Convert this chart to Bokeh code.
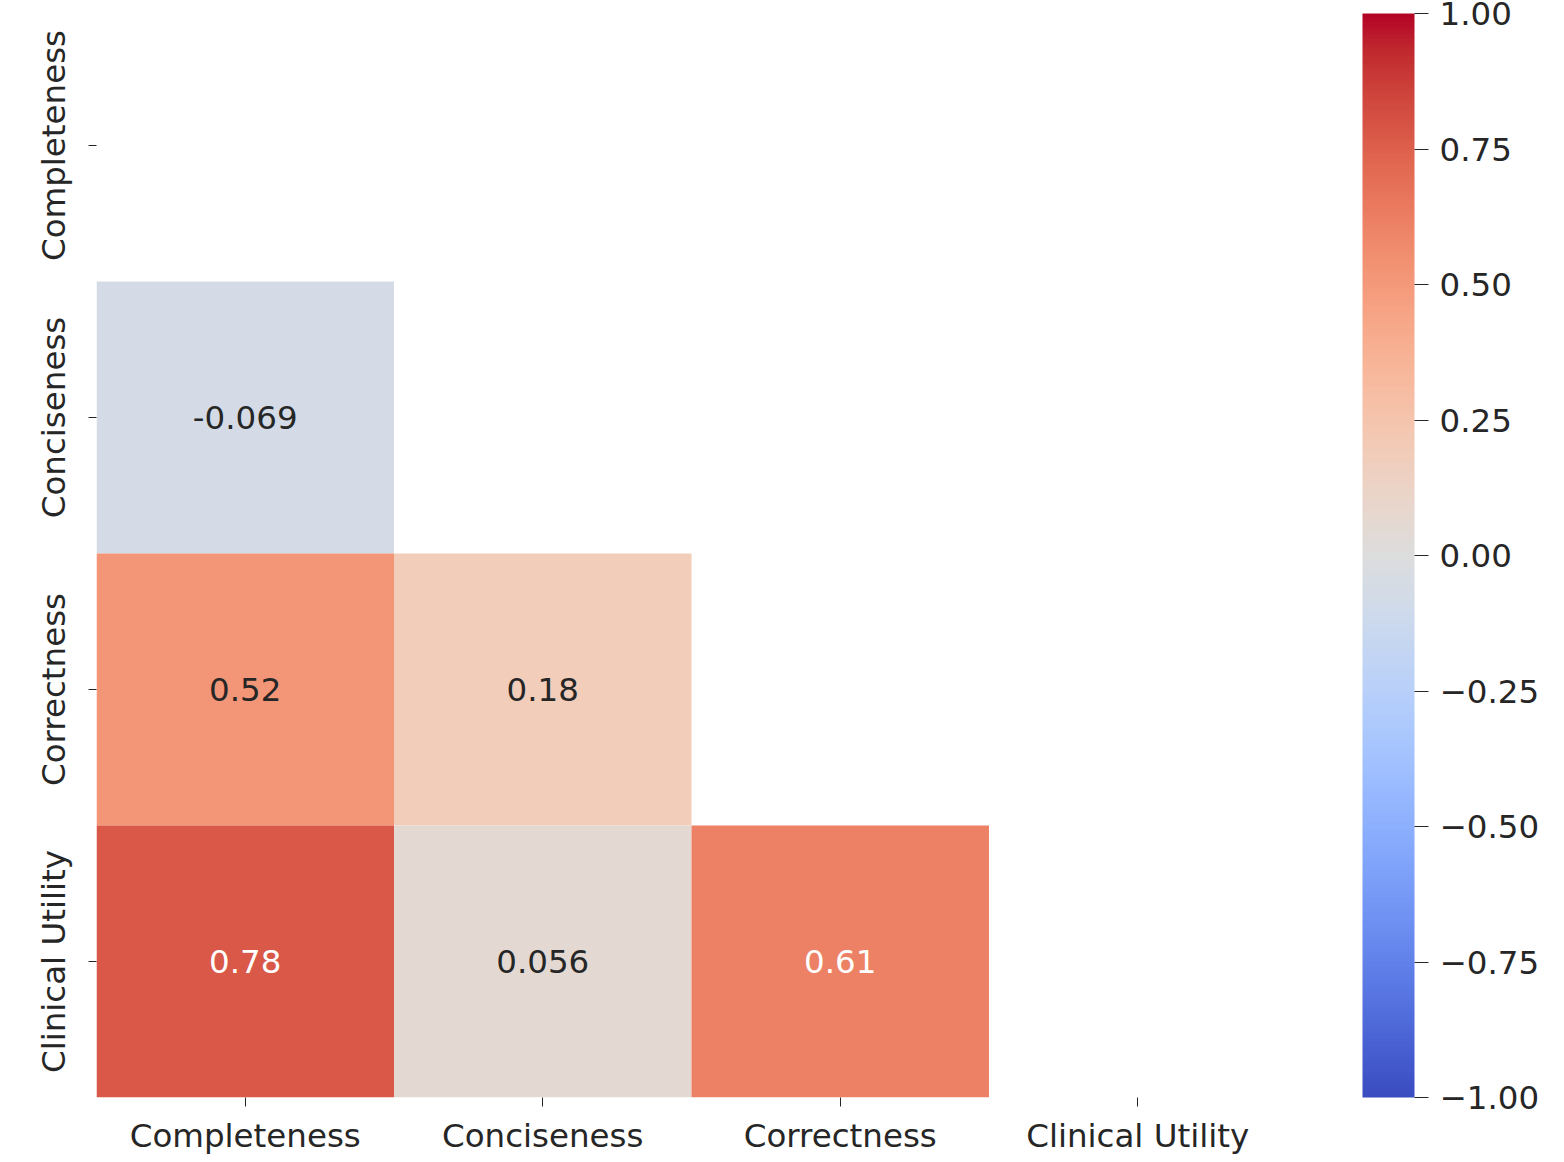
import numpy as np
from bokeh.plotting import figure
from bokeh.models import (ColumnDataSource, LinearColorMapper, ColorBar, FixedTicker,
                          CustomJSTickFormatter, FactorRange)
from bokeh.transform import transform
from bokeh.core.properties import value
from bokeh.embed import file_html
from bokeh.resources import INLINE

# ---- data ----
labels = ["Completeness", "Conciseness", "Correctness", "Clinical Utility"]
row_labels = ["Conciseness", "Correctness", "Correctness",
              "Clinical Utility", "Clinical Utility", "Clinical Utility"]
col_labels = ["Completeness", "Completeness", "Conciseness",
              "Completeness", "Conciseness", "Correctness"]
corr_values = [-0.069, 0.52, 0.18, 0.78, 0.056, 0.61]
corr_text = ["-0.069", "0.52", "0.18", "0.78", "0.056", "0.61"]
cbar_ticks = [-1.0, -0.75, -0.5, -0.25, 0.0, 0.25, 0.5, 0.75, 1.0]

# ---- coolwarm colormap (Moreland table) ----
cw = [
    (0.0, 0.2298057, 0.298717966, 0.753683153),
    (0.03125, 0.26623388, 0.353094838, 0.801466763),
    (0.0625, 0.30386891, 0.406535296, 0.84495867),
    (0.09375, 0.342804478, 0.458757618, 0.883725899),
    (0.125, 0.38301334, 0.50941904, 0.917387822),
    (0.15625, 0.424369608, 0.558148092, 0.945619588),
    (0.1875, 0.46666708, 0.604562568, 0.968154911),
    (0.21875, 0.509635204, 0.648280772, 0.98478814),
    (0.25, 0.552953156, 0.688929332, 0.995375608),
    (0.28125, 0.596262162, 0.726149107, 0.999836203),
    (0.3125, 0.639176211, 0.759599947, 0.998151185),
    (0.34375, 0.681291281, 0.788964712, 0.990363227),
    (0.375, 0.722193294, 0.813952739, 0.976574709),
    (0.40625, 0.761464949, 0.834302879, 0.956945269),
    (0.4375, 0.798691636, 0.849786142, 0.931688648),
    (0.46875, 0.833466556, 0.860207984, 0.901068838),
    (0.5, 0.865395197, 0.86541021, 0.865395561),
    (0.53125, 0.897787179, 0.848937047, 0.820880546),
    (0.5625, 0.924127593, 0.827384882, 0.774508472),
    (0.59375, 0.944468518, 0.800927443, 0.726736146),
    (0.625, 0.958852946, 0.769767752, 0.678007945),
    (0.65625, 0.96732803, 0.734132809, 0.628751763),
    (0.6875, 0.969954137, 0.694266682, 0.579375448),
    (0.71875, 0.966811177, 0.650421156, 0.530263762),
    (0.75, 0.958003065, 0.602842431, 0.481775914),
    (0.78125, 0.943660866, 0.551750968, 0.434243684),
    (0.8125, 0.923944917, 0.49730856, 0.387970225),
    (0.84375, 0.89904617, 0.439559467, 0.343229596),
    (0.875, 0.869186849, 0.378313092, 0.300267182),
    (0.90625, 0.834620542, 0.312874446, 0.259301199),
    (0.9375, 0.795631745, 0.24128379, 0.220525627),
    (0.96875, 0.752534934, 0.157246067, 0.184115123),
    (1.0, 0.705673158, 0.01555616, 0.150232812),
]
cw = np.array(cw)
s = np.linspace(0, 1, 256)
rgb = np.stack([np.interp(s, cw[:, 0], cw[:, k]) for k in (1, 2, 3)], axis=1)
palette = ["#%02x%02x%02x" % tuple(int(round(c * 255)) for c in row) for row in rgb]

def text_color(v):
    idx = int(np.clip((v + 1) / 2 * 255, 0, 255))
    r, g, b = rgb[idx]
    def lin(c):
        return c / 12.92 if c <= 0.03928 else ((c + 0.055) / 1.055) ** 2.4
    lum = 0.2126 * lin(r) + 0.7152 * lin(g) + 0.0722 * lin(b)
    return "#262626" if lum > 0.408 else "#ffffff"

src = ColumnDataSource(dict(x=col_labels, y=row_labels, v=corr_values,
                            t=corr_text, tc=[text_color(v) for v in corr_values]))

mapper = LinearColorMapper(palette=palette, low=-1, high=1)

FONT = "DejaVu Sans"
FS = "32.5px"

p = figure(x_range=FactorRange(*labels), y_range=FactorRange(*labels[::-1]),
           frame_width=1190, frame_height=1088,
           output_backend="svg", toolbar_location=None,
           min_border_left=96, min_border_top=9, min_border_bottom=40, min_border_right=10)
p.rect(x="x", y="y", width=1, height=1, source=src,
       fill_color=transform("v", mapper), line_color=None)
p.text(x="x", y="y", text="t", source=src, text_color="tc",
       text_align="center", text_baseline="middle",
       text_font=value(FONT), text_font_size=FS)

p.grid.visible = False
p.outline_line_color = None
for ax in (p.xaxis, p.yaxis):
    ax.axis_line_color = None
    ax.major_tick_in = 0
    ax.minor_tick_line_color = None
    ax.major_tick_line_color = "#262626"
    ax.major_label_text_font = FONT
    ax.major_label_text_font_size = FS
    ax.major_label_text_color = "#262626"
p.xaxis.major_tick_out = 9
p.xaxis.major_label_standoff = 10
p.yaxis.major_tick_out = 8
p.yaxis.major_label_standoff = 16
p.yaxis.major_label_orientation = "vertical"

cbar = ColorBar(color_mapper=mapper, width=52, height=1084, padding=0, margin=0,
                location=(76, 0),
                ticker=FixedTicker(ticks=cbar_ticks),
                formatter=CustomJSTickFormatter(code="return (tick < 0 ? '\u2212' : '') + Math.abs(tick).toFixed(2);"),
                major_tick_out=14, major_tick_in=0,
                major_tick_line_color="#262626",
                minor_tick_line_color=None,
                bar_line_color=None, border_line_color=None,
                background_fill_color=None,
                label_standoff=11,
                major_label_text_font=FONT, major_label_text_font_size=FS,
                major_label_text_color="#262626")
p.add_layout(cbar, "right")

open("out.html", "w").write(file_html(p, INLINE))
